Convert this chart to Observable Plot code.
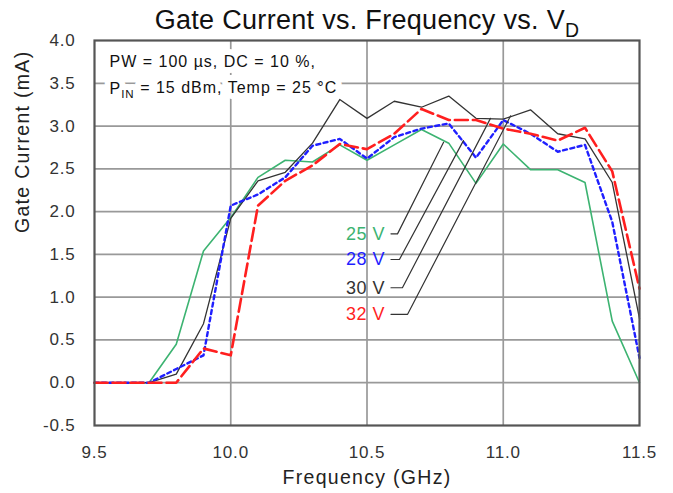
<!DOCTYPE html>
<html><head><meta charset="utf-8">
<script src="https://cdn.jsdelivr.net/npm/d3@7"></script>
<script src="https://cdn.jsdelivr.net/npm/@observablehq/plot@0.6"></script>
<style>
html,body{margin:0;padding:0;background:#fff;}
#chart svg{display:block;}
</style>
</head><body>
<div id="chart"></div>
<script>
// ---- data ----
const freq = [9.5,9.6,9.7,9.8,9.9,10.0,10.1,10.2,10.3,10.4,10.5,10.6,10.7,10.8,10.9,11.0,11.1,11.2,11.3,11.4,11.5];
const v25 = [0,0,0,0.45,1.54,1.93,2.40,2.60,2.58,2.78,2.60,2.78,2.96,2.80,2.33,2.79,2.49,2.49,2.34,0.72,0.00];
const v28 = [0,0,0,0.16,0.32,2.07,2.20,2.40,2.77,2.85,2.62,2.87,2.97,3.03,2.63,3.07,2.91,2.70,2.78,1.88,0.29];
const v30 = [0,0,0,0.10,0.69,1.92,2.36,2.46,2.80,3.31,3.09,3.29,3.22,3.35,3.09,3.08,3.19,2.91,2.85,2.34,0.75];
const v32 = [0,0,0,0.00,0.40,0.32,2.07,2.36,2.54,2.79,2.73,2.91,3.20,3.07,3.07,2.97,2.91,2.83,2.98,2.47,1.10];
const seriesNames = ["25 V","28 V","30 V","32 V"];
const seriesColors = ["#3cb371","#1f1fff","#333333","#ff1f1f"];

const xTicks = [9.5,10.0,10.5,11.0,11.5];
const yTicks = [-0.5,0.0,0.5,1.0,1.5,2.0,2.5,3.0,3.5,4.0];
const xGrid = [10.0,10.5,11.0];
const yGrid = [0.0,0.5,1.0,1.5,2.0,2.5,3.0,3.5];

// callout labels and leader lines (data coordinates)
const labelX = 10.566;
const labelY = [1.74,1.44,1.11,0.80];
const leaderStartX = 10.588;
const leaderBendX = [10.612,10.619,10.630,10.649];
const leaderTipX = [10.781,10.854,10.953,11.027];
const leaderTipY = [2.81,2.83,3.09,3.12];

const titleText = "Gate Current vs. Frequency vs. V";
const titleSub = "D";
const note1 = "PW = 100 µs, DC = 10 %,";
const note2a = "P";
const note2sub = "IN";
const note2b = " = 15 dBm, Temp = 25 °C";
const xLabel = "Frequency (GHz)";
const yLabel = "Gate Current (mA)";

// ---- build tables ----
const seriesValues = [v25, v28, v30, v32];
const rows = seriesValues.map(vals => freq.map((f, i) => ({f, v: vals[i]})));
const leaders = seriesNames.flatMap((s, i) => [
  {s, x: leaderStartX, y: labelY[i]},
  {s, x: leaderBendX[i], y: labelY[i]},
  {s, x: leaderTipX[i], y: leaderTipY[i]}
]);
const labels = seriesNames.map((s, i) => ({s, x: labelX, y: labelY[i], c: seriesColors[i]}));
const fmt = d => d.toFixed(1);
const note2Full = note2a + note2sub + note2b;

const font = "'Liberation Sans', Arial, Helvetica, sans-serif";
const noteOpts = {frameAnchor: "top-left", dx: 15, text: d => d, textAnchor: "start", lineAnchor: "middle", fontSize: 16};

const plot = Plot.plot({
  width: 673,
  height: 493,
  marginLeft: 94,
  marginRight: 34,
  marginTop: 40,
  marginBottom: 68,
  style: {fontFamily: font, background: "#fff", color: "#222", overflow: "visible"},
  x: {domain: [9.5, 11.5]},
  y: {domain: [-0.5, 4.0]},
  marks: [
    Plot.gridX(xGrid, {stroke: "#999", strokeOpacity: 1, strokeWidth: 1.7}),
    Plot.gridY(yGrid, {stroke: "#999", strokeOpacity: 1, strokeWidth: 1.7}),
    Plot.axisX(xTicks, {tickSize: 0, tickPadding: 20, tickFormat: fmt, fontSize: 17, label: null, fill: "#333"}),
    Plot.axisY(yTicks, {tickSize: 0, tickPadding: 19, tickFormat: fmt, fontSize: 17, label: null, fill: "#333"}),
    // annotation: white halo layer, then text layer
    Plot.text([note1], {...noteOpts, dy: 21.5, fill: "#fff", stroke: "#fff", strokeWidth: 12}),
    Plot.text([note2Full], {...noteOpts, dy: 48.5, fill: "#fff", stroke: "#fff", strokeWidth: 12}),
    Plot.text([note1], {...noteOpts, dy: 21.5, fill: "#111"}),
    Plot.text([note2Full], {...noteOpts, dy: 48.5, fill: "#111"}),
    // series
    Plot.line(rows[0], {x: "f", y: "v", stroke: seriesColors[0], strokeWidth: 1.6}),
    Plot.line(rows[2], {x: "f", y: "v", stroke: seriesColors[2], strokeWidth: 1.3}),
    Plot.line(rows[1], {x: "f", y: "v", stroke: seriesColors[1], strokeWidth: 2.4, strokeDasharray: "4,3.5"}),
    Plot.line(rows[3], {x: "f", y: "v", stroke: seriesColors[3], strokeWidth: 2.6, strokeDasharray: "13,5"}),
    // leaders
    Plot.line(leaders, {x: "x", y: "y", z: "s", stroke: "#333", strokeWidth: 1.2}),
    Plot.text(labels, {x: "x", y: "y", text: "s", fill: "c", textAnchor: "end", lineAnchor: "middle", fontSize: 18}),
    Plot.frame({stroke: "#555", strokeWidth: 2.2}),
    // title & axis labels
    Plot.text([titleText], {frameAnchor: "top", dy: -20, text: d => d, lineAnchor: "middle", fontSize: 27, fill: "#111"}),
    Plot.text([xLabel], {frameAnchor: "bottom", dy: 52, text: d => d, lineAnchor: "middle", fontSize: 19.5, fill: "#222"}),
    Plot.text([yLabel], {frameAnchor: "left", dx: -72, rotate: -90, text: d => d, lineAnchor: "middle", fontSize: 19.5, fill: "#222"})
  ]
});

document.getElementById("chart").appendChild(plot);

// post-process: letter spacing and subscripts
const svg = d3.select(plot);
const tickSet = new Set([...xTicks, ...yTicks].map(fmt));
svg.selectAll("text").each(function() {
  const t = d3.select(this);
  const s = this.textContent;
  if (s === titleText) {
    t.text(null);
    t.append("tspan").text(titleText);
    t.append("tspan").attr("dy", "0.38em").attr("font-size", "0.72em").text(titleSub);
    t.attr("letter-spacing", "0.3px");
  } else if (s === note2Full) {
    t.text(null);
    t.append("tspan").text(note2a);
    t.append("tspan").attr("dy", "0.3em").attr("font-size", "0.72em").text(note2sub);
    t.append("tspan").attr("dy", "-0.3em").text(note2b);
    t.attr("letter-spacing", "1px");
  } else if (s === note1) {
    t.attr("letter-spacing", "1px");
  } else if (s === xLabel || s === yLabel) {
    t.attr("letter-spacing", "1.3px");
  } else if (seriesNames.includes(s)) {
    t.attr("letter-spacing", "0.5px");
  } else if (tickSet.has(s)) {
    t.attr("letter-spacing", "0.8px");
  }
});
</script>
</body></html>
